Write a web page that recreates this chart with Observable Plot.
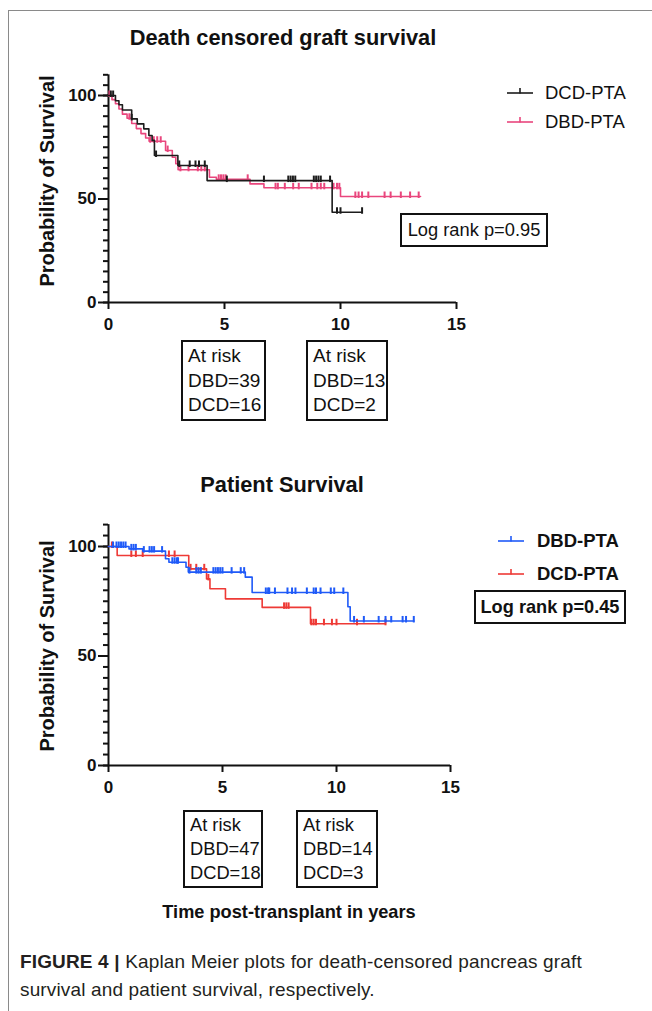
<!DOCTYPE html>
<html><head><meta charset="utf-8">
<script src="https://cdn.jsdelivr.net/npm/d3@7"></script>
<script src="https://cdn.jsdelivr.net/npm/@observablehq/plot@0.6"></script>
<style>
body{margin:0;background:#fff;}
#root{position:relative;width:652px;height:1011px;overflow:hidden;font-family:"Liberation Sans",Arial,sans-serif;color:#111;background:#fff;}
.abs{position:absolute;white-space:nowrap;}
.box{position:absolute;border:2px solid #111;box-sizing:border-box;}
.risk{font-size:19px;line-height:24.5px;padding:2px 0 0 5px;white-space:nowrap;}
</style></head><body><div id="root"></div>
<script>
// ---------- data ----------
const xTicks = [0, 5, 10, 15];
const yTicks = [0, 50, 100];

// Death censored graft survival
const graftDCD_t = [0, 0.3, 0.45, 0.6, 1.0, 1.24, 1.52, 1.74, 1.88, 1.98, 2.99, 4.25, 9.64, 10.93];
const graftDCD_s = [100, 97.5, 95.5, 93, 88.7, 86.3, 83.9, 80.7, 78.3, 71.0, 66.2, 58.9, 43.6, 43.6];
const graftDCD_c = [0.1, 0.2, 1.0, 2.05, 3.05, 3.5, 3.75, 3.9, 4.15, 5.1, 6.7, 7.75, 7.85, 7.95, 8.05, 8.85, 8.95, 9.05, 9.15, 9.55, 9.85, 10.0, 10.93];

const graftDBD_t = [0, 0.15, 0.3, 0.45, 0.6, 0.8, 1.0, 1.2, 1.4, 1.6, 1.75, 2.46, 2.75, 2.9, 3.0, 4.35, 4.65, 6.1, 6.7, 10.0, 13.45];
const graftDBD_s = [100, 98, 96, 93.5, 91, 89, 86.5, 84, 81.6, 79.5, 77.9, 73.4, 70.2, 67, 64.1, 60.5, 59.5, 57.3, 55.4, 51.2, 51.2];
const graftDBD_c = [0.04, 0.9, 1.8, 1.95, 2.1, 2.25, 2.55, 3.1, 3.45, 3.85, 4.0, 4.15, 4.75, 4.85, 4.95, 5.05, 6.0, 7.2, 7.3, 7.6, 7.96, 8.2, 8.75, 9.0, 9.15, 9.3, 9.7, 9.85, 9.95, 10.64, 10.78, 10.93, 11.2, 11.9, 12.16, 12.6, 13.0, 13.37];

// Patient survival
const patDBD_t = [0, 0.9, 1.5, 2.5, 2.65, 3.4, 3.5, 6.0, 6.3, 10.5, 10.6, 13.39];
const patDBD_s = [100, 98.9, 97.9, 94.4, 92.8, 90.5, 88.3, 86.0, 79.0, 72.5, 66.0, 66.0];
const patDBD_c = [0.2, 0.35, 0.45, 0.55, 0.65, 0.75, 1.0, 1.1, 1.2, 1.55, 1.8, 1.9, 2.0, 2.35, 2.8, 2.9, 3.0, 3.05, 3.55, 3.85, 3.95, 4.05, 4.6, 4.7, 4.8, 4.9, 5.0, 5.4, 5.8, 5.95, 6.9, 7.0, 7.05, 7.3, 7.85, 8.05, 8.2, 8.7, 9.0, 9.1, 9.3, 9.75, 9.9, 10.3, 10.77, 11.2, 11.85, 12.15, 12.4, 12.9, 13.05, 13.39];

const patDCD_t = [0, 0.38, 3.52, 4.3, 4.45, 5.13, 6.74, 8.86, 12.15];
const patDCD_s = [100, 95.9, 89.8, 85.2, 80.7, 76.1, 72.2, 64.7, 64.7];
const patDCD_c = [0.15, 1.0, 1.2, 1.5, 2.65, 2.9, 3.6, 3.85, 4.2, 4.38, 7.7, 7.8, 7.9, 8.9, 9.0, 9.1, 9.45, 9.8, 10.0, 10.9, 12.15];

const colBlack = "#1c1c1c", colPink = "#e9467d", colBlue = "#1f5af8", colRed = "#ee3a36";

// ---------- helpers ----------
const root = document.getElementById("root");
function add(html, css, cls = "abs") {
  const d = document.createElement("div");
  d.className = cls;
  d.innerHTML = html;
  Object.assign(d.style, css);
  root.appendChild(d);
  return d;
}
function survAt(ts, ss, c) {
  let v = ss[0];
  for (let i = 0; i < ts.length; i++) if (ts[i] <= c) v = ss[i];
  return v;
}
const censorTick = {
  draw(ctx, size) {
    const r = Math.sqrt(size / Math.PI);
    ctx.moveTo(0, r * 0.3);
    ctx.lineTo(0, -r);
  }
};
function km(cfg) {
  const marks = [
    Plot.axisY(d3.range(0, 111, 5), {tickSize: 5, tickFormat: () => "", strokeWidth: 2, label: null}),
    Plot.axisY(yTicks, {tickSize: 10, tickPadding: 2, strokeWidth: 2, label: null}),
    Plot.axisX(xTicks, {tickSize: 7, tickPadding: 8, strokeWidth: 2, label: null}),
    Plot.ruleX([0], {strokeWidth: 2, stroke: "#111"}),
    Plot.ruleY([0], {strokeWidth: 2, stroke: "#111"})
  ];
  for (const c of cfg.curves) {
    const pts = c.t.map((t, i) => ({t, s: c.s[i]}));
    marks.push(Plot.line(pts, {x: "t", y: "s", curve: "step-after", stroke: c.color, strokeWidth: 1.6}));
    const cens = c.c.map(t => ({t, s: survAt(c.t, c.s, t)}));
    marks.push(Plot.dot(cens, {x: "t", y: "s", symbol: censorTick, r: 5, stroke: c.color, strokeWidth: 2, fill: "none"}));
  }
  const svg = Plot.plot({
    width: cfg.width, height: cfg.height,
    marginLeft: cfg.ml, marginRight: cfg.mr, marginTop: cfg.mt, marginBottom: cfg.mb,
    x: {domain: [0, 15]},
    y: {domain: [0, 110]},
    style: {fontFamily: '"Liberation Sans", Arial, sans-serif', fontSize: "17px", fontWeight: "bold", color: "#111", background: "transparent", overflow: "visible"},
    marks
  });
  svg.style.position = "absolute";
  svg.style.left = cfg.left + "px";
  svg.style.top = cfg.top + "px";
  root.appendChild(svg);
}
function legendItem(x, y, color, label, bold) {
  add(`<svg width="28" height="10" style="position:absolute;left:0;top:${-5}px;overflow:visible">
        <line x1="0" x2="26" y1="5" y2="5" stroke="${color}" stroke-width="1.6"/>
        <line x1="13" x2="13" y1="5.5" y2="0" stroke="${color}" stroke-width="1.6"/></svg>
       <span style="position:absolute;left:${bold ? 39 : 38}px;top:-11px;font-size:18.5px;font-weight:${bold ? "bold" : "normal"};line-height:21px">${label}</span>`,
      {left: x + "px", top: y + "px"});
}

// ---------- frame ----------
add("", {left: "8px", top: "10px", width: "644px", height: "0", borderTop: "1px solid #8a8a8a"});
add("", {left: "8px", top: "10px", width: "0", height: "1001px", borderLeft: "1px solid #8a8a8a"});

// ---------- chart 1 ----------
add("Death censored graft survival", {left: "283px", top: "38px", transform: "translate(-50%,-50%)", fontSize: "21.8px", fontWeight: "bold"});
km({
  left: 0, top: 50, width: 480, height: 290, ml: 108, mr: 24, mt: 24.3, mb: 38,
  curves: [
    {t: graftDBD_t, s: graftDBD_s, c: graftDBD_c, color: colPink},
    {t: graftDCD_t, s: graftDCD_s, c: graftDCD_c, color: colBlack}
  ]
});
add("Probability of Survival", {left: "47px", top: "181px", transform: "translate(-50%,-50%) rotate(-90deg)", fontSize: "20px", fontWeight: "bold"});
legendItem(507, 93, colBlack, "DCD-PTA", false);
legendItem(507, 122, colPink, "DBD-PTA", false);
add(`<div style="text-align:center;font-size:18.3px;line-height:30px">Log rank p=0.95</div>`, {left: "400px", top: "213px", width: "148px", height: "34px"}, "box");
add(`<div class="risk">At risk<br>DBD=39<br>DCD=16</div>`, {left: "181px", top: "340px", width: "85px", height: "81px"}, "box");
add(`<div class="risk">At risk<br>DBD=13<br>DCD=2</div>`, {left: "306px", top: "340px", width: "82px", height: "81px"}, "box");

// ---------- chart 2 ----------
add("Patient Survival", {left: "282px", top: "485px", transform: "translate(-50%,-50%)", fontSize: "21.8px", fontWeight: "bold"});
km({
  left: 0, top: 500, width: 480, height: 300, ml: 108, mr: 30, mt: 24.1, mb: 35,
  curves: [
    {t: patDCD_t, s: patDCD_s, c: patDCD_c, color: colRed},
    {t: patDBD_t, s: patDBD_s, c: patDBD_c, color: colBlue}
  ]
});
add("Probability of Survival", {left: "47px", top: "646px", transform: "translate(-50%,-50%) rotate(-90deg)", fontSize: "20px", fontWeight: "bold"});
legendItem(498, 541, colBlue, "DBD-PTA", true);
legendItem(498, 574, colRed, "DCD-PTA", true);
add(`<div style="text-align:center;font-size:18.2px;font-weight:bold;line-height:30px">Log rank p=0.45</div>`, {left: "474px", top: "590px", width: "152px", height: "34px"}, "box");
add(`<div class="risk" style="padding-top:1px;line-height:24px;font-size:18.3px">At risk<br>DBD=47<br>DCD=18</div>`, {left: "183px", top: "810px", width: "80px", height: "78px"}, "box");
add(`<div class="risk" style="padding-top:1px;line-height:24px;font-size:18.3px">At risk<br>DBD=14<br>DCD=3</div>`, {left: "296px", top: "810px", width: "82px", height: "78px"}, "box");
add("Time post-transplant in years", {left: "289px", top: "912px", transform: "translate(-50%,-50%)", fontSize: "18.2px", fontWeight: "bold"});

// ---------- caption ----------
add(`<b>FIGURE 4 |</b> Kaplan Meier plots for death-censored pancreas graft<br>survival and patient survival, respectively.`,
    {left: "20px", top: "948px", fontSize: "19px", lineHeight: "28px", color: "#231f20", letterSpacing: "0.15px"});
</script></body></html>
